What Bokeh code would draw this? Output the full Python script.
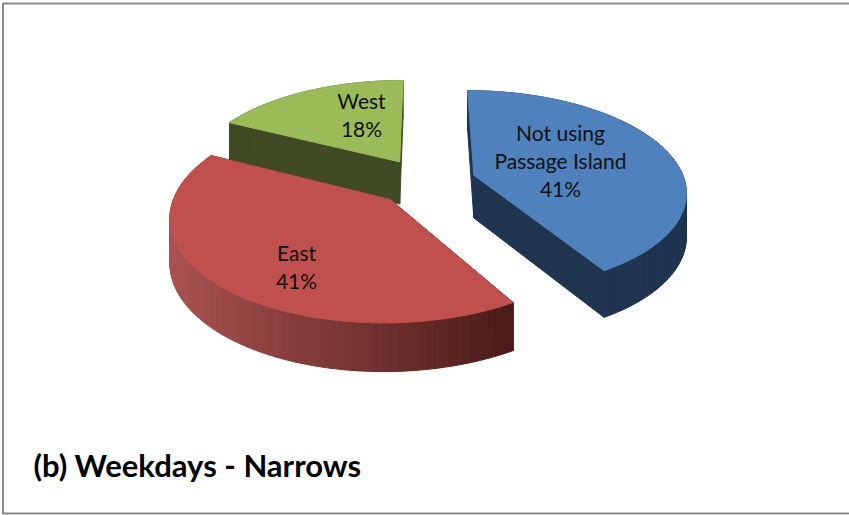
import numpy as np
from bokeh.plotting import figure
from bokeh.models import Range1d
from bokeh.core.properties import value
from bokeh.embed import file_html
from bokeh.resources import INLINE

categories = ["Not using\nPassage Island", "East", "West"]
shares = [41.4, 41.0, 17.6]
percent_labels = ["41%", "41%", "18%"]
title_text = "(b) Weekdays - Narrows"

top_colors = ["#4F81BD", "#C0504D", "#9BBB59"]
side_dark = ["#1F344F", "#4A1B19", "#404A24"]
side_light = ["#1F344F", "#A85250", "#404A24"]
label_px = [(560, 159.5), (296, 265.5), (361, 113.5)]

W, H = 849, 515
CX, CY, A, B, K, EXPLODE, DEPTH = 425, 181, 211, 99, 0.15, 0.24, 43


def project(X, Y, lift=0.0):
    w = 1 + K * Y
    return CX + A * X / w, CY - B * Y / w + lift / (1 + 0.1 * Y)


p = figure(width=W, height=H, output_backend="svg", toolbar_location=None,
           x_range=Range1d(0, W), y_range=Range1d(H, 0), min_border=0,
           outline_line_color=None, background_fill_color="white")
p.axis.visible = False
p.grid.visible = False

p.line([2.5, 2.5, W + 5, W + 5, 2.5, 2.5], [3, 513, 513, 3, 3, 513],
       line_color="#8A8A8A", line_width=2)

edges = np.cumsum([0] + shares) / sum(shares) * 2 * np.pi
order = [2, 1, 0]
for i in order:
    t0, t1 = edges[i], edges[i + 1]
    mid = (t0 + t1) / 2
    ax, ay = EXPLODE * np.sin(mid), EXPLODE * np.cos(mid)
    th = np.linspace(t0, t1, 90)
    rx = ax + np.sin(th)
    ry = ay + np.cos(th)

    # radial side faces
    for a_idx in (0, -1):
        xs = [ax, rx[a_idx], rx[a_idx], ax]
        ys = [ay, ry[a_idx], ry[a_idx], ay]
        lifts = [0, 0, DEPTH, DEPTH]
        px, py = zip(*[project(x, y, l) for x, y, l in zip(xs, ys, lifts)])
        p.patch(list(px), list(py), fill_color=side_dark[i], line_color=side_dark[i], line_width=1)

    # outer rim, shaded across the slice
    sx_top, sy_top = project(rx, ry)
    sx_bot, sy_bot = project(rx, ry, DEPTH)
    c0 = np.array([int(side_light[i][j:j + 2], 16) for j in (1, 3, 5)], float)
    c1 = np.array([int(side_dark[i][j:j + 2], 16) for j in (1, 3, 5)], float)
    xmin, xmax = sx_top.min(), sx_top.max()
    for j in range(len(th) - 1):
        f = ((sx_top[j] + sx_top[j + 1]) / 2 - xmin) / (xmax - xmin)
        c = c0 + (c1 - c0) * f
        col = "#%02X%02X%02X" % tuple(int(round(v)) for v in c)
        p.patch([sx_top[j], sx_top[j + 1], sx_bot[j + 1], sx_bot[j]],
                [sy_top[j], sy_top[j + 1], sy_bot[j + 1], sy_bot[j]],
                fill_color=col, line_color=col, line_width=1)

    # top face
    fx, fy = project(np.r_[ax, rx], np.r_[ay, ry])
    p.patch(list(fx), list(fy), fill_color=top_colors[i], line_color=top_colors[i], line_width=1)

LH = 28
for i in range(3):
    lines = categories[i].split("\n") + [percent_labels[i]]
    lx, ly = label_px[i]
    n = len(lines)
    p.text([lx] * n, [ly + (k - (n - 1) / 2) * LH for k in range(n)], text=lines,
           text_font=value("Lato"), text_font_size="21px", text_color="#101010",
           text_align="center", text_baseline="middle")

p.text([33], [464], text=[title_text], text_font=value("Lato"), text_font_style="bold",
       text_font_size="31px", text_color="#000000", text_align="left", text_baseline="middle")

open("out.html", "w").write(file_html(p, INLINE))
